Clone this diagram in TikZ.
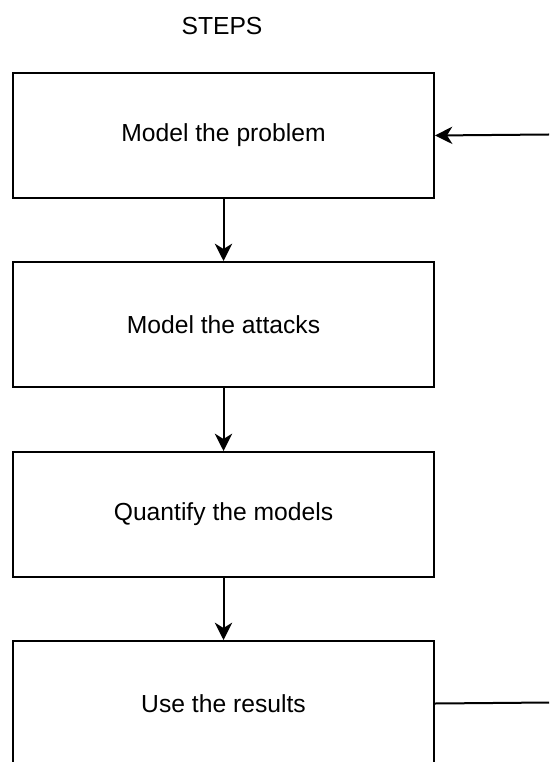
\documentclass[tikz,border=0pt]{standalone}
\usepackage{fontspec}
\setmainfont{Liberation Sans}
\usetikzlibrary{arrows.meta}
\begin{document}
\begin{tikzpicture}[x=0.75pt,y=-0.75pt,
  stepbox/.style={draw=black, line width=1.5pt, minimum width=421*0.75pt, minimum height=125*0.75pt, inner sep=0pt, font=\fontsize{18.5pt}{22pt}\selectfont, anchor=north west},
  link/.style={line width=1.5pt, -{Stealth[length=13pt,width=13pt,inset=4pt]}},
  plain/.style={line width=1.5pt}]
\useasboundingbox (0,0) rectangle (549,762);
\node[font=\fontsize{18.5pt}{22pt}\selectfont] (title) at (222,26) {STEPS};
\node[stepbox] (s1) at (12,72) {Model the problem};
\node[stepbox] (s2) at (12,261) {Model the attacks};
\node[stepbox] (s3) at (12,451) {Quantify the models};
\node[stepbox] (s4) at (12,640) {Use the results};
\coordinate (inR) at (549,134.5);
\coordinate (outR) at (549,702.5);
\draw[link] (s1.south) -- (s2.north);
\draw[link] (s2.south) -- (s3.north);
\draw[link] (s3.south) -- (s4.north);
\draw[link] (inR) -- (s1.east);
\draw[plain] (s4.east) -- (outR);
\end{tikzpicture}
\end{document}
